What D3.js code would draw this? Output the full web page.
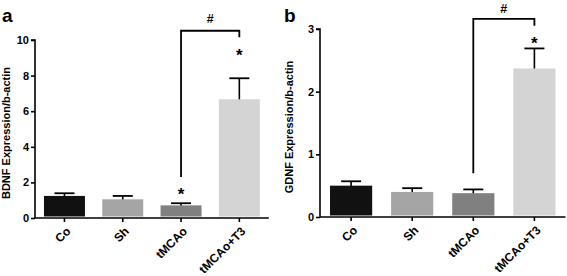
<!DOCTYPE html>
<html><head><meta charset="utf-8">
<script src="https://cdn.jsdelivr.net/npm/d3@7"></script>
<style>
body{margin:0;background:#fff;}
text{font-family:"Liberation Sans",Arial,sans-serif;font-weight:bold;fill:#000;}
</style></head>
<body><svg id="c" width="567" height="276"></svg>
<script>
// ---- data ----
const categories = ["Co", "Sh", "tMCAo", "tMCAo+T3"];
const colors = ["#111111", "#a5a5a5", "#808080", "#d4d4d4"];
const bdnfMean = [1.24, 1.05, 0.71, 6.67];
const bdnfErr  = [0.15, 0.19, 0.12, 1.18];
const gdnfMean = [0.50, 0.40, 0.38, 2.37];
const gdnfErr  = [0.07, 0.06, 0.06, 0.32];
const bdnfTicks = [0, 2, 4, 6, 8, 10];
const gdnfTicks = [0, 1, 2, 3];
const bdnfStars = [{cat:"tMCAo", y:1.53}, {cat:"tMCAo+T3", y:9.34}];
const gdnfStars = [{cat:"tMCAo+T3", y:2.82}];
const bdnfBracket = {from:"tMCAo", to:"tMCAo+T3", low:2.3, top:10.52, right:10.15, hash:11.2};
const gdnfBracket = {from:"tMCAo", to:"tMCAo+T3", low:0.70, top:3.16, right:3.05, hash:3.33};

const svg = d3.select("#c");
const FF = "'Liberation Sans',Arial,sans-serif";

function panel(opt){
  const g = svg.append("g");
  const x = d3.scaleBand().domain(categories).range([opt.x0, opt.x1])
    .paddingInner(opt.pi).paddingOuter(opt.po);
  const y = d3.scaleLinear().domain([0, opt.max]).range([opt.yb, opt.yt]);
  const data = categories.map((c,i)=>({c, v:opt.mean[i], e:opt.err[i], col:colors[i]}));
  const cap = 10;
  data.forEach(d=>{
    const cx = x(d.c) + x.bandwidth()/2;
    g.append("line").attr("x1",cx).attr("x2",cx).attr("y1",y(d.v)+4).attr("y2",y(d.v+d.e))
      .attr("stroke","#000").attr("stroke-width",1.6);
    g.append("line").attr("x1",cx-cap).attr("x2",cx+cap).attr("y1",y(d.v+d.e)).attr("y2",y(d.v+d.e))
      .attr("stroke","#000").attr("stroke-width",1.8);
  });
  g.selectAll("rect.bar").data(data).join("rect").attr("class","bar")
    .attr("x",d=>x(d.c)).attr("width",x.bandwidth())
    .attr("y",d=>y(d.v)).attr("height",d=>y(0)-1.5-y(d.v))
    .attr("fill",d=>d.col);
  // y axis
  const ya = d3.axisLeft(y).tickValues(opt.ticks).tickSize(4).tickPadding(2).tickFormat(d3.format("d"));
  const yg = g.append("g").attr("transform",`translate(${opt.x0},0)`).call(ya);
  yg.attr("font-family",null).attr("font-size",null);
  yg.select(".domain").attr("d",`M-4,${y(opt.max)}H0V${y(0)}`).attr("stroke","#000").attr("stroke-width",1.6);
  yg.selectAll(".tick line").attr("stroke","#000").attr("stroke-width",1.6);
  yg.selectAll(".tick text").style("font-size","11px").style("font-family",FF).style("font-weight","bold");
  // x axis
  const xa = d3.axisBottom(x).tickSize(4).tickPadding(2);
  const xg = g.append("g").attr("transform",`translate(0,${y(0)})`).call(xa);
  xg.attr("font-family",null).attr("font-size",null);
  xg.select(".domain").attr("d",`M${opt.x0},0H${opt.x1}`).attr("stroke","#000").attr("stroke-width",1.6);
  xg.selectAll(".tick line").attr("stroke","#000").attr("stroke-width",1.6);
  xg.selectAll(".tick text").style("font-size","12px").style("font-family",FF).style("font-weight","bold")
    .attr("text-anchor","end").attr("x",0).attr("y",0).attr("dy","0.35em")
    .attr("transform","translate(4,11) rotate(-45)");
  // stars
  opt.stars.forEach(s=>{
    g.append("text").attr("x",x(s.cat)+x.bandwidth()/2).attr("y",y(s.y)+9)
      .attr("text-anchor","middle").style("font-size","17px").text("*");
  });
  // bracket
  const b = opt.bracket;
  const bx1 = x(b.from)+x.bandwidth()/2, bx2 = x(b.to)+x.bandwidth()/2;
  g.append("path").attr("d",`M${bx1},${y(b.low)}V${y(b.top)}H${bx2}V${y(b.right)}`)
    .attr("fill","none").attr("stroke","#000").attr("stroke-width",1.8);
  g.append("text").attr("x",(bx1+bx2)/2).attr("y",y(b.hash)+4.5).attr("text-anchor","middle")
    .style("font-size","12.5px").text("#");
  // y label
  g.append("text").attr("transform",`translate(${opt.lx},${(y(0)+y(opt.max))/2+4}) rotate(-90)`)
    .attr("text-anchor","middle").style("font-size","11px").text(opt.label);
  // panel letter
  g.append("text").attr("x",opt.px).attr("y",22).style("font-size","19px").text(opt.letter);
}

panel({x0:35, x1:268.8, pi:0.297, po:0.154, yb:218, yt:40, max:10, mean:bdnfMean, err:bdnfErr,
  ticks:bdnfTicks, stars:bdnfStars, bracket:bdnfBracket, label:"BDNF Expression/b-actin", lx:10, px:2, letter:"a"});
panel({x0:320, x1:565.5, pi:0.31, po:0.164, yb:217, yt:29, max:3, mean:gdnfMean, err:gdnfErr,
  ticks:gdnfTicks, stars:gdnfStars, bracket:gdnfBracket, label:"GDNF Expression/b-actin", lx:293, px:284, letter:"b"});
</script></body></html>
